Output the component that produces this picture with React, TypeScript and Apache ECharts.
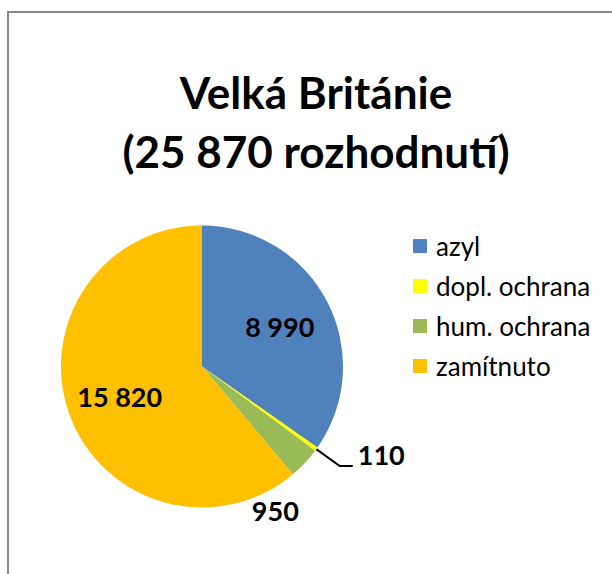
import React, { useEffect, useRef } from "react";
import * as echarts from "echarts";

const categories = ["azyl", "dopl. ochrana", "hum. ochrana", "zamítnuto"];
const values = [8990, 110, 950, 15820];
const colors = ["#4F81BD", "#FFFF00", "#9BBB59", "#FFC000"];
const titleLine1 = "Velká Británie";
const titleSuffix = "rozhodnutí";
const insideLabelIdx = [0, 3];
const outsideLabelIdx = [1, 2];

const fmt = (v: number) => String(v).replace(/\B(?=(\d{3})+(?!\d))/g, " ");
const FONT = "Lato";

export default function App() {
  const ref = useRef<HTMLDivElement>(null);
  useEffect(() => {
    document.body.style.margin = "0";
    document.body.style.overflow = "hidden";
    if (!ref.current) return;
    const chart = echarts.init(ref.current, null, { renderer: "svg" });
    const total = values.reduce((a, b) => a + b, 0);
    const R = 141;
    const center = [202, 366.5];
    const data = categories.map((name, i) => ({
      name,
      value: values[i],
      itemStyle: { color: colors[i] },
    }));
    const labelText = {
      fontFamily: FONT,
      fontWeight: "bold" as const,
      fontSize: 27,
      color: "#000",
    };
    chart.setOption({
      animation: false,
      backgroundColor: "#ffffff",
      legend: {
        orient: "vertical",
        left: 408,
        top: 228,
        icon: "rect",
        itemWidth: 14,
        itemHeight: 14,
        itemGap: 14,
        selectedMode: false,
        data: categories.map((name, i) => ({ name, itemStyle: { color: colors[i] } })),
        textStyle: {
          fontFamily: FONT,
          fontSize: 26,
          lineHeight: 26,
          color: "#000",
          padding: [0, 0, 0, 4],
        },
      },
      graphic: [
        {
          type: "rect",
          silent: true,
          shape: { x: 8, y: 12, width: 700, height: 700 },
          style: { fill: "none", stroke: "#888888", lineWidth: 2 },
        },
        {
          type: "text",
          silent: true,
          x: 316,
          y: 62,
          style: {
            text: `${titleLine1}\n(${fmt(total)} ${titleSuffix})`,
            align: "center",
            verticalAlign: "top",
            fontFamily: FONT,
            fontWeight: "bold",
            fontSize: 44,
            lineHeight: 59,
            fill: "#000",
          },
        },
      ],
      series: [
        {
          type: "pie",
          center,
          radius: [0, R],
          startAngle: 90,
          clockwise: true,
          avoidLabelOverlap: false,
          silent: true,
          emphasis: { disabled: true },
          data: data.map((d, i) => ({
            ...d,
            label: {
              show: outsideLabelIdx.includes(i),
              position: "outside",
              formatter: (p: any) =>
                p.dataIndex === 1 ? `{v|${fmt(p.value)}}\n{s| }` : `{v|${fmt(p.value)}}`,
              ...labelText,
              rich: {
                v: { ...labelText, lineHeight: 27 },
                s: { fontSize: 10, lineHeight: 24 },
              },
            },
            labelLine: {
              show: i === 1,
              length: 29,
              length2: 13,
              lineStyle: { color: "#000", width: 2 },
            },
          })),
          labelLayout: (p: any) => (p.dataIndex === 2 ? { dx: -92, dy: 28 } : {}),
        },
        {
          type: "pie",
          center,
          radius: [0, R * 1.2],
          startAngle: 90,
          clockwise: true,
          silent: true,
          emphasis: { disabled: true },
          itemStyle: { color: "rgba(0,0,0,0)" },
          data: categories.map((name, i) => ({
            name: name + " ",
            value: values[i],
            label: {
              show: insideLabelIdx.includes(i),
              position: "inside",
              formatter: (p: any) => fmt(p.value),
              ...labelText,
            },
          })),
          labelLine: { show: false },
        },
      ],
    });
    return () => chart.dispose();
  }, []);
  return <div ref={ref} style={{ width: 612, height: 574 }} />;
}
